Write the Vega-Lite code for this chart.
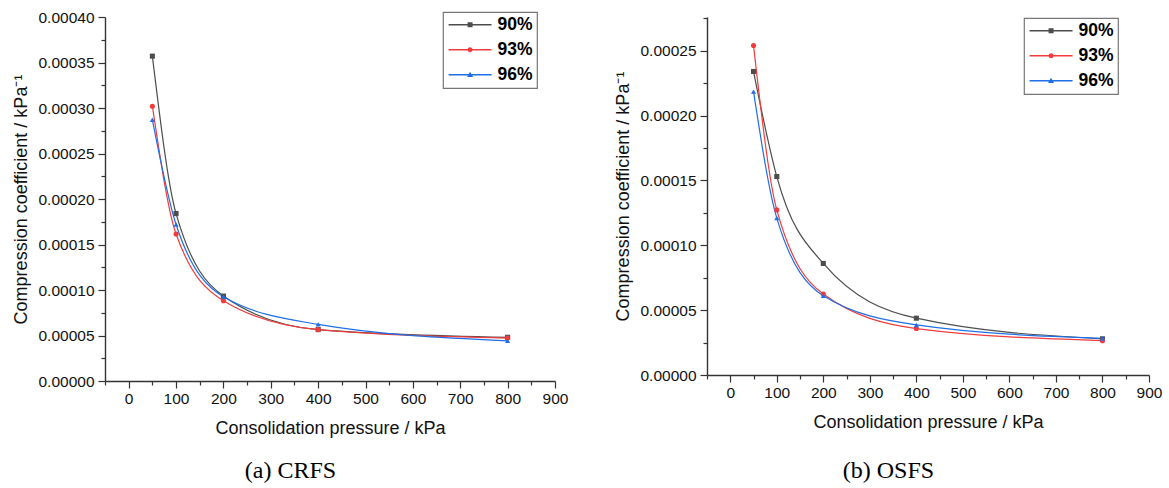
{
  "$schema": "https://vega.github.io/schema/vega-lite/v6.json",
  "background": "white",
  "padding": {"left": 12, "top": 10, "right": 5, "bottom": 5},
  "bounds": "flush",
  "spacing": 152,
  "config": {
    "font": "Liberation Sans",
    "view": {"stroke": null},
    "axis": {
      "domainColor": "#333333",
      "domainWidth": 1.4,
      "tickColor": "#333333",
      "tickWidth": 1.2,
      "labelColor": "#111111",
      "labelFont": "Liberation Sans",
      "labelFontSize": 15.5,
      "titleFont": "Liberation Sans",
      "titleFontSize": 18,
      "titleFontWeight": "normal",
      "titleColor": "#111111",
      "grid": false,
      "labelFlush": false,
      "labelOverlap": false
    },
    "legend": {
      "title": null,
      "orient": "none",
      "strokeColor": "#777777",
      "strokeWidth": 1.2,
      "padding": 4,
      "fillColor": "white",
      "labelFont": "Liberation Sans",
      "labelFontWeight": "bold",
      "labelFontSize": 17.5,
      "labelColor": "#000000",
      "symbolSize": 205,
      "symbolOpacity": 1,
      "symbolStrokeWidth": 0,
      "labelOffset": 33,
      "rowPadding": 6
    }
  },
  "resolve": {
    "scale": {"x": "independent", "y": "independent", "color": "independent", "shape": "independent"},
    "legend": {"color": "independent", "shape": "independent"}
  },
  "hconcat": [
    {
      "width": 450,
      "height": 364,
      "title": {"text": "(a) CRFS", "orient": "bottom", "anchor": "middle", "frame": "bounds", "font": "Liberation Serif", "fontSize": 24, "fontWeight": "normal", "color": "#000000", "offset": 21},
      "data": {"values": [
        {"pressure": 50, "coef": 0.000357, "series": "90%"},
        {"pressure": 100, "coef": 0.000184, "series": "90%"},
        {"pressure": 200, "coef": 0.0000933, "series": "90%"},
        {"pressure": 400, "coef": 0.0000565, "series": "90%"},
        {"pressure": 800, "coef": 0.000048, "series": "90%"},
        {"pressure": 50, "coef": 0.000302, "series": "93%"},
        {"pressure": 100, "coef": 0.0001615, "series": "93%"},
        {"pressure": 200, "coef": 0.0000883, "series": "93%"},
        {"pressure": 400, "coef": 0.0000565, "series": "93%"},
        {"pressure": 800, "coef": 0.0000472, "series": "93%"},
        {"pressure": 50, "coef": 0.000287, "series": "96%"},
        {"pressure": 100, "coef": 0.000172, "series": "96%"},
        {"pressure": 200, "coef": 0.0000926, "series": "96%"},
        {"pressure": 400, "coef": 0.0000622, "series": "96%"},
        {"pressure": 800, "coef": 0.0000442, "series": "96%"}
      ]},
      "encoding": {
        "x": {
          "field": "pressure", "type": "quantitative",
          "scale": {"domain": [-50, 900], "nice": false, "zero": false},
          "axis": {
            "title": "Consolidation pressure / kPa",
            "values": [-50, 0, 50, 100, 150, 200, 250, 300, 350, 400, 450, 500, 550, 600, 650, 700, 750, 800, 850, 900],
            "format": "d",
            "labelExpr": "datum.value % 100 === 0 ? datum.label : ''",
            "tickSize": {"condition": {"test": "datum.value % 100 !== 0", "value": 4}, "value": 7},
            "labelPadding": 3,
            "titlePadding": 13
          }
        },
        "y": {
          "field": "coef", "type": "quantitative",
          "scale": {"domain": [0, 0.0004], "nice": false},
          "axis": {
            "title": "Compression coefficient / kPa⁻¹",
            "values": [0, 0.000025, 0.00005, 0.000075, 0.0001, 0.000125, 0.00015, 0.000175, 0.0002, 0.000225, 0.00025, 0.000275, 0.0003, 0.000325, 0.00035, 0.000375, 0.0004],
            "labelExpr": "round(datum.value * 1e6) % 50 === 0 ? format(datum.value, '.5f') : ''",
            "tickSize": {"condition": {"test": "round(datum.value * 1e6) % 50 !== 0", "value": 4}, "value": 7},
            "labelPadding": 4,
            "titlePadding": 7
          }
        }
      },
      "resolve": {
        "scale": {"color": "independent", "shape": "independent"},
        "legend": {"color": "independent", "shape": "independent"}
      },
      "layer": [
        {
          "mark": {"type": "line", "interpolate": "monotone", "strokeWidth": 1.2},
          "encoding": {
            "color": {"field": "series", "type": "nominal", "scale": {"domain": ["90%", "93%", "96%"], "range": ["#4d4d4d", "#f23b3b", "#1e6fe6"]}, "legend": null}
          }
        },
        {
          "mark": {"type": "point", "filled": true, "opacity": 1, "size": 26},
          "encoding": {
            "color": {"field": "series", "type": "nominal", "scale": {"domain": ["90%", "93%", "96%"], "range": ["#4d4d4d", "#f23b3b", "#1e6fe6"]}, "legend": null},
            "shape": {"field": "series", "type": "nominal", "scale": {"domain": ["90%", "93%", "96%"], "range": ["square", "circle", "triangle-up"]}, "legend": null}
          }
        },
        {
          "mark": {"type": "point", "filled": true, "opacity": 0, "size": 205},
          "encoding": {
            "color": {"field": "series", "type": "nominal", "scale": {"domain": ["90%", "93%", "96%"], "range": ["#4d4d4d", "#f23b3b", "#1e6fe6"]}, "legend": {"legendX": 338, "legendY": -5}},
            "shape": {"field": "series", "type": "nominal", "scale": {"domain": ["90%", "93%", "96%"], "range": ["M-1,-0.1H5V0.1H-1Z M1.65,-0.35H2.35V0.35H1.65Z", "M-1,-0.1H5V0.1H-1Z M2.35,0A0.35,0.35,0,1,1,1.65,0A0.35,0.35,0,1,1,2.35,0Z", "M-1,-0.1H5V0.1H-1Z M2,-0.42L2.42,0.3H1.58Z"]}, "legend": {"legendX": 338, "legendY": -5}}
          }
        }
      ]
    },
    {
      "width": 442,
      "height": 358,
      "title": {"text": "(b) OSFS", "orient": "bottom", "anchor": "middle", "frame": "bounds", "font": "Liberation Serif", "fontSize": 24, "fontWeight": "normal", "color": "#000000", "offset": 27},
      "data": {"values": [
        {"pressure": 50, "coef": 0.000234, "series": "90%"},
        {"pressure": 100, "coef": 0.000153, "series": "90%"},
        {"pressure": 200, "coef": 0.000086, "series": "90%"},
        {"pressure": 400, "coef": 0.0000438, "series": "90%"},
        {"pressure": 800, "coef": 0.0000279, "series": "90%"},
        {"pressure": 50, "coef": 0.000254, "series": "93%"},
        {"pressure": 100, "coef": 0.0001273, "series": "93%"},
        {"pressure": 200, "coef": 0.0000624, "series": "93%"},
        {"pressure": 400, "coef": 0.0000358, "series": "93%"},
        {"pressure": 800, "coef": 0.0000265, "series": "93%"},
        {"pressure": 50, "coef": 0.0002185, "series": "96%"},
        {"pressure": 100, "coef": 0.000121, "series": "96%"},
        {"pressure": 200, "coef": 0.0000611, "series": "96%"},
        {"pressure": 400, "coef": 0.0000386, "series": "96%"},
        {"pressure": 800, "coef": 0.0000282, "series": "96%"}
      ]},
      "encoding": {
        "x": {
          "field": "pressure", "type": "quantitative",
          "scale": {"domain": [-50, 900], "nice": false, "zero": false},
          "axis": {
            "title": "Consolidation pressure / kPa",
            "values": [-50, 0, 50, 100, 150, 200, 250, 300, 350, 400, 450, 500, 550, 600, 650, 700, 750, 800, 850, 900],
            "format": "d",
            "labelExpr": "datum.value % 100 === 0 ? datum.label : ''",
            "tickSize": {"condition": {"test": "datum.value % 100 !== 0", "value": 4}, "value": 7},
            "labelPadding": 3,
            "titlePadding": 13
          }
        },
        "y": {
          "field": "coef", "type": "quantitative",
          "scale": {"domain": [0, 0.000276], "nice": false},
          "axis": {
            "title": "Compression coefficient / kPa⁻¹",
            "values": [0, 0.000025, 0.00005, 0.000075, 0.0001, 0.000125, 0.00015, 0.000175, 0.0002, 0.000225, 0.00025, 0.000275],
            "labelExpr": "round(datum.value * 1e6) % 50 === 0 ? format(datum.value, '.5f') : ''",
            "tickSize": {"condition": {"test": "round(datum.value * 1e6) % 50 !== 0", "value": 4}, "value": 7},
            "labelPadding": 4,
            "titlePadding": 7
          }
        }
      },
      "resolve": {
        "scale": {"color": "independent", "shape": "independent"},
        "legend": {"color": "independent", "shape": "independent"}
      },
      "layer": [
        {
          "mark": {"type": "line", "interpolate": "monotone", "strokeWidth": 1.2},
          "encoding": {
            "color": {"field": "series", "type": "nominal", "scale": {"domain": ["90%", "93%", "96%"], "range": ["#4d4d4d", "#f23b3b", "#1e6fe6"]}, "legend": null}
          }
        },
        {
          "mark": {"type": "point", "filled": true, "opacity": 1, "size": 26},
          "encoding": {
            "color": {"field": "series", "type": "nominal", "scale": {"domain": ["90%", "93%", "96%"], "range": ["#4d4d4d", "#f23b3b", "#1e6fe6"]}, "legend": null},
            "shape": {"field": "series", "type": "nominal", "scale": {"domain": ["90%", "93%", "96%"], "range": ["square", "circle", "triangle-up"]}, "legend": null}
          }
        },
        {
          "mark": {"type": "point", "filled": true, "opacity": 0, "size": 205},
          "encoding": {
            "color": {"field": "series", "type": "nominal", "scale": {"domain": ["90%", "93%", "96%"], "range": ["#4d4d4d", "#f23b3b", "#1e6fe6"]}, "legend": {"legendX": 317, "legendY": 1}},
            "shape": {"field": "series", "type": "nominal", "scale": {"domain": ["90%", "93%", "96%"], "range": ["M-1,-0.1H5V0.1H-1Z M1.65,-0.35H2.35V0.35H1.65Z", "M-1,-0.1H5V0.1H-1Z M2.35,0A0.35,0.35,0,1,1,1.65,0A0.35,0.35,0,1,1,2.35,0Z", "M-1,-0.1H5V0.1H-1Z M2,-0.42L2.42,0.3H1.58Z"]}, "legend": {"legendX": 317, "legendY": 1}}
          }
        }
      ]
    }
  ]
}
